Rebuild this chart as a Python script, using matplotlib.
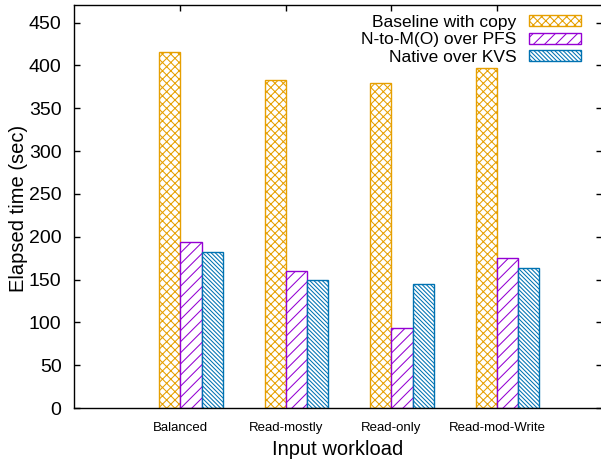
import matplotlib
matplotlib.use('Agg')
import matplotlib.pyplot as plt
import numpy as np

plt.rcParams['font.family'] = ['Liberation Sans', 'DejaVu Sans']
plt.rcParams['hatch.linewidth'] = 0.75

# data
workloads = ['Balanced', 'Read-mostly', 'Read-only', 'Read-mod-Write']
series = ['Baseline with copy', 'N-to-M(O) over PFS', 'Native over KVS']
baseline = [416, 383, 380, 397]
pfs = [194, 160, 93, 175]
kvs = [182, 149, 145, 163]
values = [baseline, pfs, kvs]

colors = ['#E69F00', '#9400D3', '#0072B2']
hatches = ['xxxx', '///', '\\' * 8]

W, H = 601, 461
fig = plt.figure(figsize=(W / 100, H / 100), dpi=100)
# axes box in pixels: left 74, right 602, top 5.5, bottom 408
ax = fig.add_axes([74 / W, (H - 408) / H, (602 - 74) / W, (408 - 5.5) / H])

x = np.arange(len(workloads))
bw = 0.2
for i, (name, vals) in enumerate(zip(series, values)):
    ax.bar(x + (i - 1) * bw, vals, width=bw, facecolor='white',
           edgecolor=colors[i], hatch=hatches[i], linewidth=1.0,
           label=name, zorder=2)

ax.set_xlim(-1.109, 3.896)
ax.set_ylim(0, 470)
ax.set_yticks(np.arange(0, 451, 50))
ax.set_xticks(x - bw / 2)
ax.set_xticklabels(workloads, fontsize=9.5)

ax.tick_params(axis='y', direction='in', length=4.5, width=1, labelsize=14,
               pad=9, right=True)
ax.tick_params(axis='x', direction='in', length=4.5, width=1, pad=10, top=True)

for s in ax.spines.values():
    s.set_linewidth(1.0)
    s.set_color('black')

fig.text(338 / W, 1 - 449 / H, 'Input workload', fontsize=14.5,
         ha='center', va='center')
fig.text(19 / W, 1 - 208 / H, 'Elapsed time (sec)', fontsize=14.5,
         ha='center', va='center', rotation=90)

leg = ax.legend(loc='upper right', bbox_to_anchor=(581 / W, 1 - 15 / H),
                bbox_transform=fig.transFigure, frameon=False,
                markerfirst=False, fontsize=12.5, handlelength=3.0,
                handleheight=0.6, handletextpad=0.71, labelspacing=0.13,
                borderpad=0, borderaxespad=0)

fig.savefig('out.png', dpi=100)
